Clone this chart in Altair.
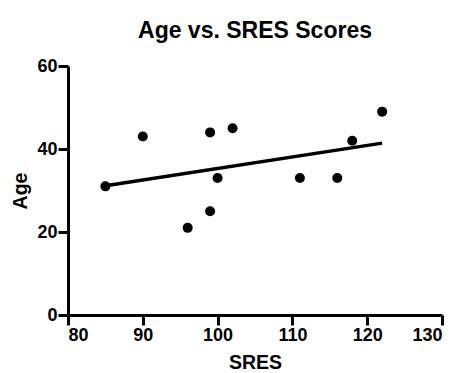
import altair as alt
import pandas as pd

sres = [85, 90, 99, 102, 100, 96, 99, 111, 116, 118, 122]
age = [31, 43, 44, 45, 33, 21, 25, 33, 33, 42, 49]

df = pd.DataFrame({"SRES": sres, "Age": age})

FONT = "Liberation Sans"

x_enc = alt.X("SRES:Q", scale=alt.Scale(domain=[80, 130], nice=False, zero=False),
              axis=alt.Axis(values=[80, 90, 100, 110, 120, 130], title="SRES"))
y_enc = alt.Y("Age:Q", scale=alt.Scale(domain=[0, 60], nice=False),
              axis=alt.Axis(values=[0, 20, 40, 60], title="Age"))

points = alt.Chart(df).mark_circle(size=100, color="black", opacity=1).encode(x=x_enc, y=y_enc)

line = alt.Chart(df).transform_regression("SRES", "Age").mark_line(
    color="black", strokeWidth=3.5
).encode(x=x_enc, y=y_enc)

chart = (line + points).properties(
    width=374, height=249,
    title=alt.TitleParams("Age vs. SRES Scores", font=FONT, fontSize=23, fontWeight="bold",
                          color="black", offset=14),
    padding={"left": 60, "top": 58, "right": 10, "bottom": 58},
    autosize=alt.AutoSizeParams(type="none"),
).configure_view(stroke=None).configure_axis(
    grid=False, domainColor="black", domainWidth=3, tickColor="black", tickWidth=3,
    tickSize=10, labelFont=FONT, labelFontSize=18, labelFontWeight="bold", labelColor="black",
    titleFont=FONT, titleFontSize=19.5, titleFontWeight="bold", titleColor="black",
    labelPadding=1,
).configure_axisX(titlePadding=9).configure_axisY(titlePadding=6)

chart.save("out.html", embed_options={"renderer": "svg", "actions": False})
